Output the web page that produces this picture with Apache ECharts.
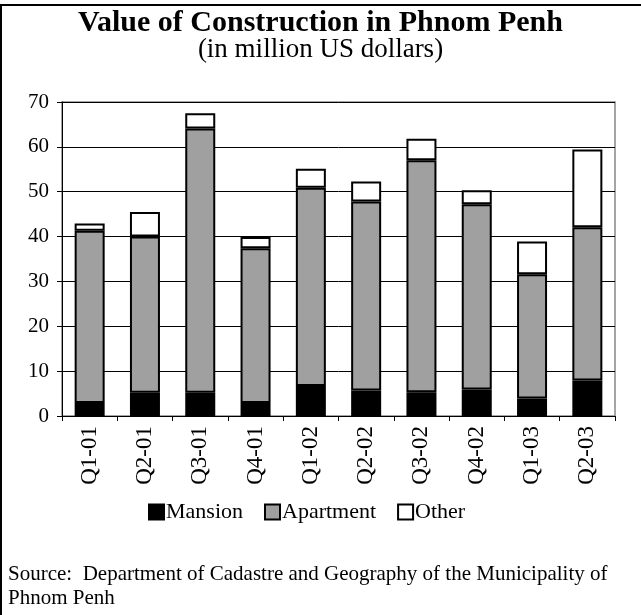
<!DOCTYPE html>
<html>
<head>
<meta charset="utf-8">
<script src="https://cdn.jsdelivr.net/npm/echarts@6/dist/echarts.min.js"></script>
<style>
  html, body { margin: 0; padding: 0; background: #fff; }
  #main { width: 641px; height: 615px; }
</style>
</head>
<body>
<div id="main"></div>
<script>
// data (million US$)
var quarters = ["Q1-01", "Q2-01", "Q3-01", "Q4-01", "Q1-02", "Q2-02", "Q3-02", "Q4-02", "Q1-03", "Q2-03"];
var mansion = [2.9, 5.2, 5.2, 2.9, 6.7, 5.7, 5.3, 5.9, 3.9, 7.9];
var apartment = [38.4, 34.8, 58.9, 34.5, 44.2, 42.1, 51.7, 41.3, 27.7, 34.2];
var other = [1.6, 5.5, 3.4, 2.5, 4.2, 4.5, 4.8, 3.1, 7.3, 17.3];
var yTicks = [0, 10, 20, 30, 40, 50, 60, 70];

var font = "Liberation Serif";
var chart = echarts.init(document.getElementById("main"));

function bar(name, data, color) {
  return {
    name: name,
    type: "bar",
    stack: "total",
    barWidth: 30,
    data: data,
    itemStyle: { color: color, borderColor: "#000", borderWidth: 2 }
  };
}

var option = {
  backgroundColor: "#fff",
  animation: false,
  title: [
    {
      text: "Value of Construction in Phnom Penh",
      left: "center",
      top: 3,
      textStyle: { fontFamily: font, fontSize: 30, fontWeight: "bold", color: "#000" }
    },
    {
      text: "(in million US dollars)",
      left: "center",
      top: 31,
      textStyle: { fontFamily: font, fontSize: 27, fontWeight: "normal", color: "#000" }
    }
  ],
  legend: {
    top: 496,
    left: 143,
    itemWidth: 15,
    itemHeight: 15,
    itemGap: 21,
    icon: "rect",
    textStyle: { fontFamily: font, fontSize: 22, color: "#000", padding: [0, 0, 0, -3] },
    data: ["Mansion", "Apartment", "Other"]
  },
  grid: { left: 62, right: 26, top: 102, bottom: 199, show: true, borderColor: "#888", borderWidth: 1.5, backgroundColor: "transparent" },
  xAxis: {
    type: "category",
    data: quarters,
    axisLine: { lineStyle: { color: "#000", width: 1 } },
    axisTick: { show: true, length: 5, lineStyle: { color: "#000" } },
    axisLabel: { rotate: 90, fontFamily: font, fontSize: 23, color: "#000", margin: 10 }
  },
  yAxis: {
    type: "value",
    min: 0,
    max: 70,
    interval: 10,
    axisLine: { show: true, lineStyle: { color: "#000", width: 1 } },
    axisTick: { show: true, length: 5, lineStyle: { color: "#000" } },
    axisLabel: {
      fontFamily: font, fontSize: 21, color: "#000", margin: 13,
      formatter: function (v) { return yTicks.indexOf(v) >= 0 ? String(v) : ""; }
    },
    splitLine: { show: true, lineStyle: { color: "#000", width: 1 } }
  },
  series: [
    bar("Mansion", mansion, "#000"),
    bar("Apartment", apartment, "#a0a0a0"),
    bar("Other", other, "#fff")
  ],
  graphic: [
    { type: "line", shape: { x1: 0, y1: 5, x2: 641, y2: 5 }, style: { stroke: "#000", lineWidth: 2 } },
    { type: "line", shape: { x1: 1, y1: 5, x2: 1, y2: 615 }, style: { stroke: "#000", lineWidth: 2 } },
    {
      type: "text", left: 8, top: 562,
      style: {
        text: "Source:  Department of Cadastre and Geography of the Municipality of\nPhnom Penh",
        font: "21px " + font, fill: "#000", lineHeight: 24
      }
    }
  ]
};
chart.setOption(option);
</script>
</body>
</html>
